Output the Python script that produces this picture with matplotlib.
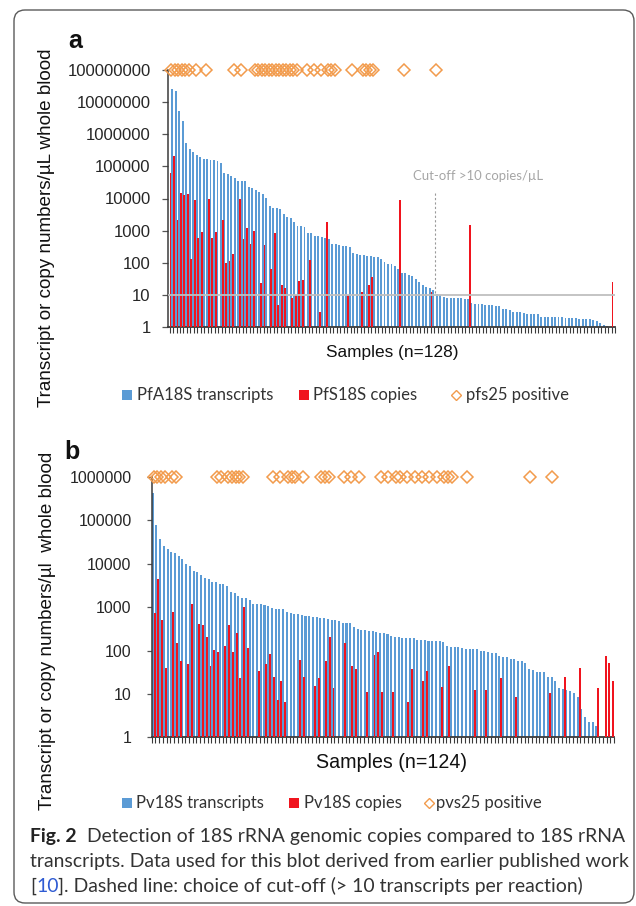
import numpy as np
import matplotlib
matplotlib.use("Agg")
import matplotlib.pyplot as plt
from matplotlib.patches import Rectangle, FancyBboxPatch
from matplotlib.ticker import FixedLocator, FixedFormatter, NullLocator

# ---------------- data ----------------
# Panel a: P. falciparum (n=128)
a_transcripts = [
    2.5e7, 2.3e7, 5.3e6, 2.6e6, 5.5e5, 3.6e5, 2.9e5, 2.2e5, 1.9e5, 1.7e5,
    1.65e5, 1.6e5, 1.55e5, 1.45e5, 1.25e5, 6.3e4, 5.8e4, 4.9e4, 4.2e4, 3.6e4,
    3.5e4, 3.4e4, 2.3e4, 2.1e4, 1.9e4, 1.6e4, 1.4e4, 1.05e4, 5.8e3, 5.1e3,
    5.1e3, 4.8e3, 3.2e3, 2.6e3, 2.5e3, 1.8e3, 1.4e3, 1.35e3, 1.3e3, 870,
    860, 680, 670, 630, 570, 560, 390, 370, 350, 340,
    330, 320, 195, 190, 175, 172, 168, 160, 155, 150,
    132, 107, 93, 89, 78, 66, 49, 48, 43, 39,
    31, 26, 21, 18, 16, 14, 10.5, 10, 8.4, 8.2,
    8.1, 8.0, 7.9, 7.8, 7.7, 7.4, 5.7, 5.3, 5.2, 5.1,
    5.0, 4.9, 4.7, 4.6, 4.4, 3.6, 3.6, 3.4, 3.0, 3.0,
    2.9, 2.7, 2.6, 2.6, 2.5, 2.5, 2.1, 2.1, 2.1, 2.1,
    2.0, 2.0, 2.0, 1.95, 1.95, 1.9, 1.85, 1.8, 1.8, 1.8,
    1.75, 1.7, 1.5, 1.3, 1.15, 1.08, 1.03, 1.0,
]
a_copy_idx = [0, 1, 2, 3, 4, 5, 6, 7, 8, 9, 11, 12, 13, 15, 16, 17, 18, 20, 21, 22,
              23, 24, 26, 27, 29, 30, 31, 32, 33, 35, 36, 37, 38, 40, 43, 45, 51, 55,
              57, 58, 66, 75, 86, 127]
a_copy_val = [6.3e4, 2.1e5, 2.1e3, 1.5e4, 1.3e4, 1.4e4, 128, 8.7e3, 600, 890, 1.0e4, 600,
              930, 2.1e3, 100, 113, 190, 1.0e4, 535, 1.2e3, 370, 970, 24, 350, 62, 870,
              5, 21, 16, 7.8, 10, 28, 30, 118, 3, 1.9e3, 10, 12, 21, 37, 9.0e3, 12.6,
              1.5e3, 26]
a_pfs25_idx = [0, 1, 2, 3, 4, 5, 7, 10, 18, 20, 24, 25, 26, 27, 28, 29, 30, 31, 32, 33,
               34, 35, 36, 39, 41, 43, 45, 46, 47, 52, 55, 56, 57, 58, 67, 76]
a_cutoff_value = 10
a_cutoff_pos = 75.9
a_ytick_labels = ["1", "10", "100", "1000", "10000", "100000", "1000000",
                  "10000000", "100000000"]

# Panel b: P. vivax (n=124)
b_transcripts = [
    4.2e5, 7.9e4, 3.7e4, 2.6e4, 2.2e4, 1.9e4, 1.8e4, 1.5e4, 1.3e4, 9.8e3,
    8.9e3, 6.9e3, 6.3e3, 5.6e3, 4.6e3, 4.5e3, 3.9e3, 3.8e3, 3.4e3, 3.4e3,
    3.1e3, 2.2e3, 2.1e3, 1.8e3, 1.65e3, 1.6e3, 1.5e3, 1.2e3, 1.2e3, 1.17e3,
    1.1e3, 1.05e3, 980, 910, 890, 890, 760, 720, 690, 680,
    650, 630, 630, 600, 590, 575, 550, 525, 510, 510,
    480, 430, 430, 420, 350, 315, 300, 290, 280, 280,
    270, 260, 250, 245, 220, 200, 200, 190, 190, 190,
    190, 178, 178, 178, 168, 165, 162, 162, 158, 130,
    123, 120, 120, 112, 110, 109, 107, 107, 100, 100,
    91, 87, 87, 76, 71, 70, 64, 64, 58, 56,
    51, 38, 35, 32, 31.6, 31.6, 25, 24, 20, 14,
    13, 12.3, 11.7, 10.5, 8.7, 4.5, 2.9, 2.25, 2.2, 1.85,
    0, 0, 0, 0,
]
b_copy_idx = [0, 1, 2, 3, 5, 6, 7, 9, 10, 12, 13, 14, 15, 16, 17, 19, 20, 21, 22, 23,
              24, 25, 28, 30, 31, 32, 33, 34, 35, 39, 40, 43, 44, 46, 47, 48, 51, 53,
              54, 57, 59, 60, 61, 64, 68, 69, 72, 73, 77, 79, 86, 89, 93, 97, 106, 110,
              114, 119, 121, 122, 123]
b_copy_val = [750, 4500, 510, 40, 780, 153, 58, 48, 1200, 413, 390, 210, 43, 102, 93, 128,
              380, 91, 260, 23, 1000, 113, 33, 48, 83, 24, 7.3, 20, 6.4, 61, 24, 15, 23,
              58, 204, 13.5, 153, 43, 38, 11, 78, 93, 11.3, 11, 6.6, 38, 20, 34, 14.8, 45,
              12.4, 12.4, 23, 8.4, 10.7, 24, 39, 13.5, 73, 51, 20]
b_pvs25_idx = [0, 1, 2, 3, 5, 6, 17, 18, 20, 21, 22, 23, 24, 32, 34, 36, 37, 38, 40, 45,
               46, 47, 51, 53, 55, 61, 63, 65, 66, 68, 70, 72, 74, 76, 78, 79, 80, 84,
               101, 107]
b_ytick_labels = ["1", "10", "100", "1000", "10000", "100000", "1000000"]

a_legend = ["PfA18S transcripts", "PfS18S copies", "pfs25 positive"]
b_legend = ["Pv18S transcripts", "Pv18S copies", "pvs25 positive"]

# ---------------- style ----------------
BLUE = "#5B9BD5"
RED = "#F0141E"
ORANGE = "#F29B4C"
SPINE = "#3a3a3a"
plt.rcParams["font.family"] = ["Liberation Sans", "DejaVu Sans"]

W, H = 636, 906
fig = plt.figure(figsize=(W / 100, H / 100), dpi=100)
fig.patch.set_facecolor("white")
bg = fig.add_axes([0, 0, 1, 1], zorder=-1)
bg.set_xlim(0, W)
bg.set_ylim(H, 0)
bg.axis("off")
R = fig.canvas.get_renderer()

bg.add_patch(FancyBboxPatch((14, 10), 620, 893,
                            boxstyle="round,pad=0,rounding_size=11",
                            fill=False, ec="#5a5a5a", lw=1.0))


def text_width(s, fs, family, weight="normal"):
    t = bg.text(0, 0, s, fontsize=fs, family=family, weight=weight)
    w = t.get_window_extent(renderer=R).width
    t.remove()
    return w


def fit(s, family, target, weight="normal"):
    return 12.0 * target / text_width(s, 12.0, family, weight)


def px_axes(l, t, r, b):
    return fig.add_axes([l / W, 1 - b / H, (r - l) / W, (b - t) / H])


def draw_panel(ax, trans, cidx, cval, didx, labels, xlim, red_off, blue_off,
               fs, ticklen, pad):
    n = len(trans)
    x = np.arange(n)
    tv = np.array(trans, float)
    m = tv > 0
    ax.set_yscale("log")
    ax.bar(x[m] + blue_off, tv[m], width=0.55, color=BLUE, lw=0, zorder=2)
    ax.bar(np.array(cidx) + red_off, cval, width=0.5, color=RED, lw=0, zorder=3)
    ticks = [float(s) for s in labels]
    ax.set_ylim(ticks[0], ticks[-1])
    ax.set_xlim(*xlim)
    ax.plot(didx, [ticks[-1]] * len(didx), ls="none", marker="D", ms=6.6,
            mfc="none", mec=ORANGE, mew=1.1, clip_on=False, zorder=6)
    ax.yaxis.set_major_locator(FixedLocator(ticks))
    ax.yaxis.set_major_formatter(FixedFormatter(labels))
    ax.yaxis.set_minor_locator(NullLocator())
    ax.set_xticks(np.arange(n + 1) - 0.5)
    ax.set_xticklabels([])
    ax.tick_params(axis="x", length=4, width=0.8, color=SPINE, direction="out")
    ax.tick_params(axis="y", length=ticklen, width=0.9, color="#555555",
                   labelsize=fs, pad=pad, labelcolor="#262626")
    for s in ("top", "right"):
        ax.spines[s].set_visible(False)
    ax.spines["left"].set_color(SPINE)
    ax.spines["left"].set_linewidth(1.1)
    ax.spines["bottom"].set_color(SPINE)
    ax.spines["bottom"].set_linewidth(1.3)
    ax.set_facecolor("none")


# Panel a
axa = px_axes(168, 70, 615, 327)
draw_panel(axa, a_transcripts, a_copy_idx, a_copy_val, a_pfs25_idx, a_ytick_labels,
           (-0.95, 127.5), -0.25, 0.27, 12, 4.5, 8)
axa.axhline(a_cutoff_value, color="#BFBFBF", lw=1.3, zorder=4)
axa.plot([a_cutoff_pos, a_cutoff_pos], [1.5e4, a_cutoff_value], color="#9a9a9a",
         lw=0.8, ls=(0, (2, 2)), zorder=4)

# Panel b
axb = px_axes(151.7, 477, 614, 737.3)
draw_panel(axb, b_transcripts, b_copy_idx, b_copy_val, b_pvs25_idx, b_ytick_labels,
           (-0.43, 123.5), 0.27, -0.25, 11.5, 3.5, 11)

# ---------------- texts ----------------
LEG_FONT = "Lato"
fs_cut = fit("Cut-off >10 copies/\u00b5L", LEG_FONT, 130)
bg.text(413, 176, "Cut-off >10 copies/\u00b5L", fontsize=fs_cut, family=LEG_FONT,
        color="#A6A6A6", va="center", ha="left")

bg.text(75, 41, "a", fontsize=18, weight="bold", ha="center", va="center", color="#111")
bg.text(72, 452, "b", fontsize=18, weight="bold", ha="center", va="center", color="#111")

ylab_a = "Transcript or copy numbers/\u00b5L whole blood"
ylab_b = "Transcript or copy numbers/\u00b5l  whole blood"
bg.text(47, 228, ylab_a, fontsize=fit(ylab_a, "Liberation Sans", 363), rotation=90,
        ha="center", va="center", color="#111")
bg.text(48, 631, ylab_b, fontsize=fit(ylab_b, "Liberation Sans", 362), rotation=90,
        ha="center", va="center", color="#111")

xa_lab = "Samples (n=%d)" % len(a_transcripts)
xb_lab = "Samples (n=%d)" % len(b_transcripts)
bg.text(392, 352, xa_lab, fontsize=fit(xa_lab, "Liberation Sans", 132),
        ha="center", va="center", color="#111")
bg.text(392, 762, xb_lab, fontsize=fit(xb_lab, "Liberation Sans", 150),
        ha="center", va="center", color="#111")

fs_leg = fit(a_legend[0], LEG_FONT, 136)


def legend(y, labels, sq1, tx1, sq2, tx2, dx, tx3):
    bg.add_patch(Rectangle((sq1, y - 5), 10, 10, color=BLUE, lw=0))
    bg.add_patch(Rectangle((sq2, y - 5), 10, 10, color=RED, lw=0))
    bg.plot([dx], [y], ls="none", marker="D", ms=5.3, mfc="none", mec=ORANGE, mew=1.0)
    for xx, s in zip((tx1, tx2, tx3), labels):
        bg.text(xx, y, s, fontsize=fs_leg, family=LEG_FONT, color="#333333",
                ha="left", va="center")


legend(395, a_legend, 122, 137, 299, 313, 456, 466)
legend(803, b_legend, 122, 136, 289, 304, 429, 436)

# caption
CAP_FONT = "Lato"
cap_lines = [
    [("Fig. 2", "bold", "#222"), ("  Detection of 18S rRNA genomic copies compared to 18S rRNA", "normal", "#333")],
    [("transcripts. Data used for this blot derived from earlier published work", "normal", "#333")],
    [("[", "normal", "#333"), ("10", "normal", "#2F5BD3"),
     ("]. Dashed line: choice of cut-off (> 10 transcripts per reaction)", "normal", "#333")],
]
w1 = sum(text_width(s, 12, CAP_FONT, wt) for s, wt, c in cap_lines[0])
fs_cap = 12 * 591 / w1
for line, yb in zip(cap_lines, (842, 867, 892)):
    x0 = 30
    for s, wt, c in line:
        t = bg.text(x0, yb, s, fontsize=fs_cap, family=CAP_FONT, weight=wt, color=c,
                    ha="left", va="baseline")
        x0 += t.get_window_extent(renderer=R).width

fig.savefig("out.png", dpi=100, facecolor="white")
